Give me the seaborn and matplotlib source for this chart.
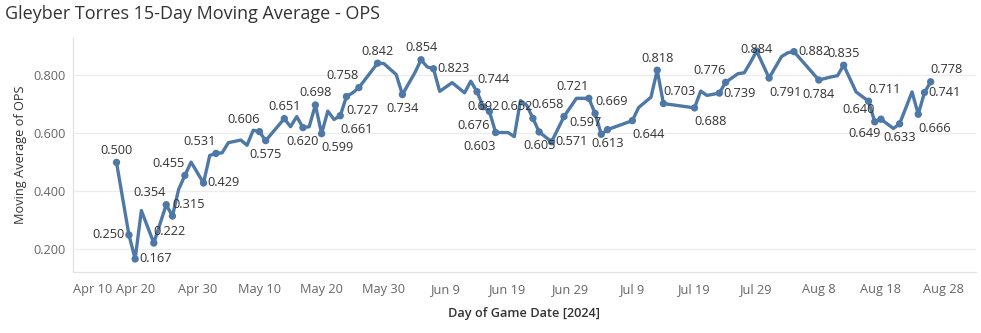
import matplotlib
matplotlib.use("Agg")
import matplotlib.pyplot as plt
import seaborn as sns
import pandas as pd

# 15-day moving average of OPS, one value per game date
game_dates = [
    "2024-04-17", "2024-04-19", "2024-04-20", "2024-04-21", "2024-04-23",
    "2024-04-25", "2024-04-26", "2024-04-27", "2024-04-28", "2024-04-29",
    "2024-05-01", "2024-05-02", "2024-05-03", "2024-05-04", "2024-05-05",
    "2024-05-07", "2024-05-08", "2024-05-09", "2024-05-10", "2024-05-11",
    "2024-05-14", "2024-05-15", "2024-05-16", "2024-05-17", "2024-05-18",
    "2024-05-19", "2024-05-20", "2024-05-21", "2024-05-22", "2024-05-23",
    "2024-05-24", "2024-05-25", "2024-05-26", "2024-05-29", "2024-05-30",
    "2024-06-01", "2024-06-02", "2024-06-04", "2024-06-05", "2024-06-06",
    "2024-06-07", "2024-06-08", "2024-06-10", "2024-06-12", "2024-06-13",
    "2024-06-14", "2024-06-15", "2024-06-16", "2024-06-17", "2024-06-19",
    "2024-06-20", "2024-06-21", "2024-06-22", "2024-06-23", "2024-06-24",
    "2024-06-26", "2024-06-28", "2024-06-30", "2024-07-02", "2024-07-03",
    "2024-07-04", "2024-07-05", "2024-07-09", "2024-07-10", "2024-07-12",
    "2024-07-13", "2024-07-14", "2024-07-19", "2024-07-20", "2024-07-21",
    "2024-07-23", "2024-07-24", "2024-07-26", "2024-07-27", "2024-07-28",
    "2024-07-29", "2024-07-31", "2024-08-02", "2024-08-03", "2024-08-04",
    "2024-08-08", "2024-08-10", "2024-08-11", "2024-08-12", "2024-08-14",
    "2024-08-16", "2024-08-17", "2024-08-18", "2024-08-20", "2024-08-21",
    "2024-08-23", "2024-08-24", "2024-08-25", "2024-08-26",
]
moving_ops = [
    0.500, 0.250, 0.167, 0.334, 0.222,
    0.354, 0.315, 0.407, 0.455, 0.501,
    0.429, 0.524, 0.531, 0.533, 0.568,
    0.577, 0.559, 0.611, 0.606, 0.575,
    0.651, 0.623, 0.658, 0.620, 0.623,
    0.698, 0.599, 0.677, 0.648, 0.661,
    0.727, 0.740, 0.758, 0.842, 0.841,
    0.803, 0.734, 0.809, 0.854, 0.829,
    0.823, 0.745, 0.775, 0.740, 0.780,
    0.744, 0.692, 0.676, 0.603, 0.603,
    0.589, 0.713, 0.697, 0.652, 0.605,
    0.571, 0.658, 0.721, 0.721, 0.669,
    0.597, 0.613, 0.644, 0.689, 0.725,
    0.818, 0.703, 0.688, 0.746, 0.731,
    0.739, 0.776, 0.806, 0.809, 0.845,
    0.884, 0.791, 0.865, 0.878, 0.882,
    0.784, 0.795, 0.799, 0.835, 0.743,
    0.711, 0.640, 0.649, 0.617, 0.633,
    0.743, 0.666, 0.741, 0.778,
]
# which games carry a value label
labeled = [
    1, 1, 1, 0, 1,
    1, 1, 0, 1, 0,
    1, 0, 1, 0, 0,
    0, 0, 0, 1, 1,
    1, 0, 0, 1, 0,
    1, 1, 0, 0, 1,
    1, 0, 1, 1, 0,
    0, 1, 0, 1, 0,
    1, 0, 0, 0, 0,
    1, 1, 1, 1, 0,
    0, 0, 0, 1, 1,
    1, 1, 0, 1, 1,
    1, 1, 1, 0, 0,
    1, 1, 1, 0, 0,
    1, 1, 0, 0, 0,
    1, 1, 0, 0, 1,
    1, 0, 0, 1, 0,
    1, 1, 1, 0, 1,
    0, 1, 1, 1,
]

# where each value label sits relative to its point (in label order)
label_side = [
    "above", "left", "right", "above-right", "above-left",
    "above-right", "above-left", "right", "above-left", "above-left",
    "below", "above", "below", "above", "below-right",
    "below-right", "below-right", "above-left", "above", "below",
    "above", "right", "above-right", "center", "below-left",
    "below-left", "above-left", "below", "right", "above-left",
    "above-left", "above-right", "above-left", "below", "below-right",
    "above", "above-right", "below-right", "right", "above-left",
    "above-close", "below-right", "right", "below", "above",
    "above-right", "above-left", "below-left", "below", "below-right",
    "right", "above-right",
]

x_tick_dates = pd.date_range("2024-04-10", "2024-08-28", freq="10D")
y_ticks = [0.2, 0.4, 0.6, 0.8]

df = pd.DataFrame({
    "date": pd.to_datetime(game_dates),
    "ops": moving_ops,
    "labeled": [bool(v) for v in labeled],
})

LINE = "#4e79a7"
TEXT = "#333333"
TICK = "#666666"
GRID = "#ececec"

sns.set_theme(style="white")
plt.rcParams["font.family"] = ["Open Sans", "DejaVu Sans"]

fig = plt.figure(figsize=(9.81, 3.33), dpi=100)
ax = fig.add_axes([73 / 981, 1 - 272 / 333, (976 - 73) / 981, (272 - 38) / 333])

sns.lineplot(data=df, x="date", y="ops", ax=ax, color=LINE, linewidth=2.4,
             solid_joinstyle="round", solid_capstyle="round", zorder=3)
sns.scatterplot(data=df[df["labeled"]], x="date", y="ops", ax=ax, color=LINE,
                s=28, edgecolor="none", zorder=4, legend=False)

offsets = {
    "above": (0, 12, "center"),
    "above-close": (0, 2, "center"),
    "below": (0, -14, "center"),
    "left": (-4, 0, "right"),
    "right": (4, 0, "left"),
    "center": (0, 0, "center"),
    "above-right": (0, 12, "left"),
    "above-left": (0, 12, "right"),
    "below-right": (0, -14, "left"),
    "below-left": (0, -14, "right"),
}
lab = df[df["labeled"]].reset_index(drop=True)
for (_, row), side in zip(lab.iterrows(), label_side):
    dx, dy, ha = offsets[side]
    ax.annotate(f"{row['ops']:.3f}", (row["date"], row["ops"]),
                xytext=(dx, dy), textcoords="offset pixels",
                ha=ha, va="center", fontsize=9.2, color=TEXT, zorder=5)

ax.set_xlim(pd.Timestamp("2024-04-10"), pd.Timestamp("2024-09-02 07:00"))
ax.set_ylim(0.122, 0.929)

ax.set_yticks(y_ticks)
ax.set_yticklabels([f"{v:.3f}" for v in y_ticks])
ax.set_xticks(x_tick_dates)
xlabels = [f"{d.strftime('%b')} {d.day}" for d in x_tick_dates]
ax.set_xticklabels(xlabels)
ax.get_xticklabels()[0].set_horizontalalignment("left")

ax.tick_params(axis="y", length=0, pad=5, labelsize=9.2, labelcolor=TICK)
ax.tick_params(axis="x", length=4, width=0.8, color="#e2e2e2", pad=4,
               labelsize=9.2, labelcolor=TICK)

ax.grid(axis="y", color=GRID, linewidth=0.9)
ax.grid(axis="x", visible=False)
for side in ("top", "right"):
    ax.spines[side].set_visible(False)
for side in ("left", "bottom"):
    ax.spines[side].set_color("#e2e2e2")
    ax.spines[side].set_linewidth(0.9)

ax.set_ylabel("Moving Average of OPS", fontsize=9.2, color=TEXT, labelpad=5)
ax.set_xlabel("Day of Game Date [2024]", fontsize=9.2, color=TEXT,
              fontweight="semibold", labelpad=8)

fig.text(5 / 981, 1 - 14 / 333, "Gleyber Torres 15-Day Moving Average - OPS",
         fontsize=13, color=TEXT, ha="left", va="center")

fig.savefig("out.png", dpi=100)
